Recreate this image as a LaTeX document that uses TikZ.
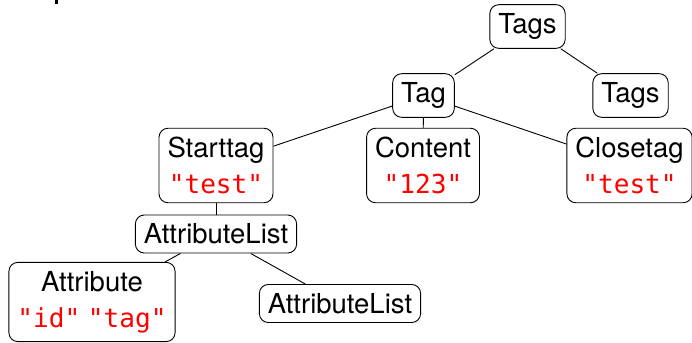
\documentclass[tikz,border=0pt]{standalone}
\usepackage{fontspec}
\setmainfont{TeX Gyre Heros}
\setmonofont{DejaVu Sans Mono}[Scale=0.95]
\definecolor{strred}{RGB}{255,0,0}
\newcommand\qstr[1]{\textcolor{strred}{\texttt{#1}}}
\begin{document}
\begin{tikzpicture}[x=1pt,y=-1pt,
  box/.style={draw, line width=0.9pt, rounded corners=9pt, inner xsep=8.5pt, inner ysep=8.8pt,
    align=center, font=\fontsize{27.5}{36}\selectfont, fill=white},
  edge/.style={draw, line width=0.9pt}]
\useasboundingbox (0,0) rectangle (692,342);
\fill (54.5,0) rectangle (57.5,4);
\node[box] (tags0) at (527.5,26.5) {Tags};
\node[box] (tag) at (423.5,95.5) {Tag};
\node[box] (tags1) at (630.5,95.5) {Tags};
\node[box] (start) at (216,165.5) {Starttag\\\qstr{"test"}};
\node[box] (content) at (423,165.5) {Content\\\qstr{"123"}};
\node[box] (close) at (629.5,165.5) {Closetag\\\qstr{"test"}};
\node[box] (alist) at (216,234) {AttributeList};
\node[box] (attr) at (92,302) {Attribute\\\qstr{"id"} \qstr{"tag"}};
\node[box] (alist2) at (340,303.5) {AttributeList};
\draw[edge] (tags0) -- (tag);
\draw[edge] (tags0) -- (tags1);
\draw[edge] (tag) -- (start);
\draw[edge] (tag) -- (content);
\draw[edge] (tag) -- (close);
\draw[edge] (start) -- (alist);
\draw[edge] (alist) -- (attr);
\draw[edge] (alist) -- (alist2);
\end{tikzpicture}
\end{document}
